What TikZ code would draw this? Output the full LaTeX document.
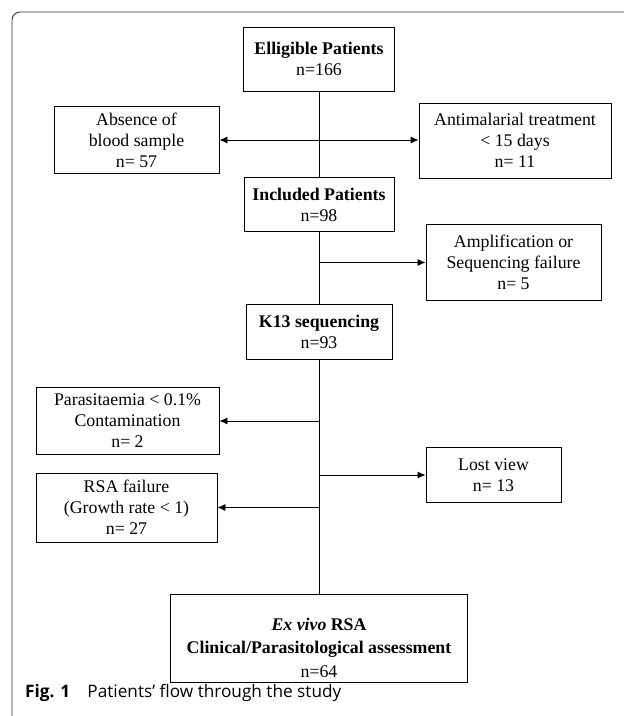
\documentclass[tikz,border=0pt]{standalone}
\usepackage{fontspec}
\setmainfont{Liberation Serif}
\newfontfamily\capfont{Open Sans}
\usepackage{tikz}
\usetikzlibrary{positioning}
\usetikzlibrary{arrows.meta}

\begin{document}
\begin{tikzpicture}[
    x=1pt, y=-1pt,
    blk/.style={draw, line width=0.9pt, align=center, inner sep=0pt, font=\fontsize{17.8}{21}\selectfont},
    link/.style={line width=0.9pt},
    arr/.style={line width=0.9pt, -{Latex[length=8pt, width=7pt]}}
  ]
  \useasboundingbox (0,0) rectangle (624,716);

  % frame round the figure
  \draw[line width=0.9pt, black!80, rounded corners=8pt] (624,12) -- (12,12) -- (12,716);

  % main column
  \node[blk, minimum width=151pt, minimum height=64pt] (elig) at (319,59) {\textbf{Elligible Patients}\\n=166};
  \node[blk, minimum width=150pt, minimum height=54pt, below=86pt of elig] (incl) {\textbf{Included Patients}\\n=98};
  \node[blk, minimum width=146pt, minimum height=55pt, below=72pt of incl] (kseq) {\textbf{K13 sequencing}\\n=93};
  \node[blk, minimum width=297pt, minimum height=88pt, below=234pt of kseq] (exvivo) {\rule{0pt}{31pt}\textbf{\textit{Ex vivo} RSA}\\[1.5pt]\textbf{Clinical/Parasitological assessment}\\[3.5pt]n=64};

  % excluded patients
  \node[blk, minimum width=165pt, minimum height=67pt] (absent) at (136.5,140) {Absence of\\blood sample\\n= 57};
  \node[blk, minimum width=192pt, minimum height=75pt] (antimal) at (515,140.5) {Antimalarial treatment\\< 15 days\\n= 11};
  \node[blk, minimum width=175pt, minimum height=76pt] (ampl) at (513.5,262.5) {Amplification or\\Sequencing failure\\n= 5};
  \node[blk, minimum width=183pt, minimum height=67pt] (parasit) at (127.5,421) {Parasitaemia < 0.1\%\\Contamination\\n= 2};
  \node[blk, minimum width=135pt, minimum height=55pt] (lost) at (493.5,475) {Lost view\\n= 13};
  \node[blk, minimum width=181pt, minimum height=69pt] (rsafail) at (126.5,507.5) {RSA failure\\(Growth rate < 1)\\n= 27};

  \draw[link] (elig) -- (incl);
  \draw[link] (incl) -- (kseq);
  \draw[link] (kseq) -- (exvivo);

  \draw[arr, {Latex[length=8pt, width=7pt]}-{Latex[length=8pt, width=7pt]}] (absent.east) -- (absent.east -| antimal.west);
  \draw[arr] (ampl.west -| incl.south) -- (ampl.west);
  \draw[arr] (parasit.east -| kseq.south) -- (parasit.east);
  \draw[arr] (lost.west -| kseq.south) -- (lost.west);
  \draw[arr] (rsafail.east -| kseq.south) -- (rsafail.east);

  \node[anchor=base west, inner sep=0pt, font=\capfont\fontsize{17.2}{20}\selectfont] (caption) at (25,697) {\textbf{Fig. 1}\quad Patients’ flow through the study};

\end{tikzpicture}
\end{document}
